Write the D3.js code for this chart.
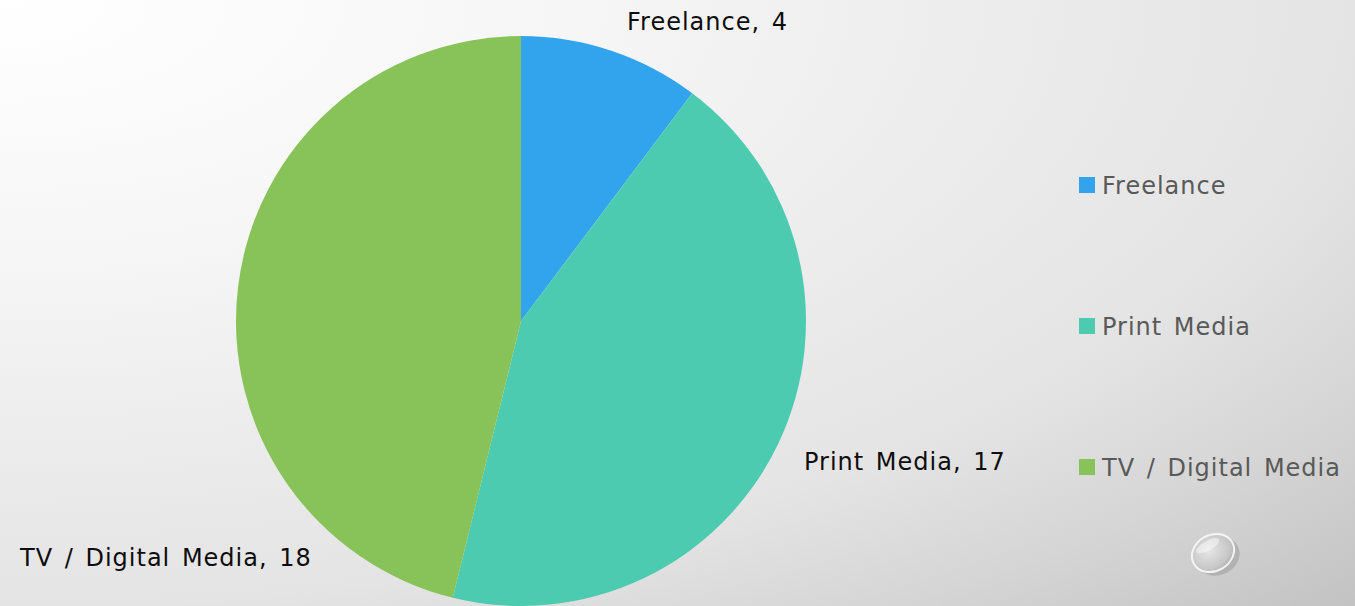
<!DOCTYPE html>
<html><head><meta charset="utf-8">
<script src="https://cdn.jsdelivr.net/npm/d3@7"></script>
<style>html,body{margin:0;padding:0;overflow:hidden;}svg{display:block;}</style>
</head><body>
<script>
const categories = ["Freelance", "Print Media", "TV / Digital Media"];
const values = [4, 17, 18];
const colors = ["#31a4ed", "#4ccbb0", "#88c35a"];

const W = 1355, H = 606;
const svg = d3.select("body").append("svg").attr("width", W).attr("height", H);
const defs = svg.append("defs");
const bg = defs.append("radialGradient").attr("id","bg").attr("cx","0").attr("cy","0").attr("r","1.41")
  .attr("gradientUnits","objectBoundingBox");
[[0,"#ffffff"],[0.3,"#f6f6f6"],[0.57,"#eaeaea"],[0.71,"#e4e4e4"],[0.85,"#d5d5d5"],[1,"#c3c3c3"]]
  .forEach(s=>bg.append("stop").attr("offset",s[0]).attr("stop-color",s[1]));
svg.append("rect").attr("width",W).attr("height",H).attr("fill","url(#bg)");

const data = categories.map((c,i)=>({name:c, value:values[i], color:colors[i]}));
const cx = 521, cy = 321, R = 285;
const pie = d3.pie().value(d=>d.value).sort(null);
const arc = d3.arc().innerRadius(0).outerRadius(R);
const g = svg.append("g").attr("transform",`translate(${cx},${cy})`);
g.selectAll("path").data(pie(data)).join("path").attr("d",arc).attr("fill",d=>d.data.color);

const font = "'DejaVu Sans', sans-serif";
const labelPos = [[627,30],[804,470],[20,566]];
svg.selectAll("text.lbl").data(data).join("text").attr("class","lbl")
  .attr("x",(d,i)=>labelPos[i][0]).attr("y",(d,i)=>labelPos[i][1])
  .attr("font-family",font).attr("font-size",24).attr("fill","#0d0d0d")
  .attr("letter-spacing",1).attr("word-spacing",3)
  .text(d=>`${d.name}, ${d.value}`);

const leg = svg.selectAll("g.leg").data(data).join("g").attr("class","leg")
  .attr("transform",(d,i)=>`translate(1079,${177 + i*141})`);
leg.append("rect").attr("width",16).attr("height",16).attr("fill",d=>d.color);
leg.append("text").attr("x",23).attr("y",17).attr("font-family",font).attr("font-size",24)
  .attr("letter-spacing",1).attr("word-spacing",3)
  .attr("fill","#595959").text(d=>d.name);

// glossy button
const bt = defs.append("radialGradient").attr("id","btn").attr("cx","0.45").attr("cy","0.4").attr("r","0.65");
bt.append("stop").attr("offset","0").attr("stop-color","#e6e6e6");
bt.append("stop").attr("offset","0.75").attr("stop-color","#c6c6c6");
bt.append("stop").attr("offset","1").attr("stop-color","#a8a8a8");
const b = svg.append("g").attr("transform","translate(1213,553) rotate(-30)");
b.append("ellipse").attr("cx",3).attr("cy",6).attr("rx",22).attr("ry",18).attr("fill","#777").attr("opacity",0.3);
b.append("ellipse").attr("rx",22).attr("ry",18).attr("fill","url(#btn)").attr("stroke","#f4f4f4").attr("stroke-width",2);
b.append("ellipse").attr("cx",-1).attr("cy",-9).attr("rx",13).attr("ry",5).attr("fill","#fff").attr("opacity",0.45);
</script>
</body></html>
